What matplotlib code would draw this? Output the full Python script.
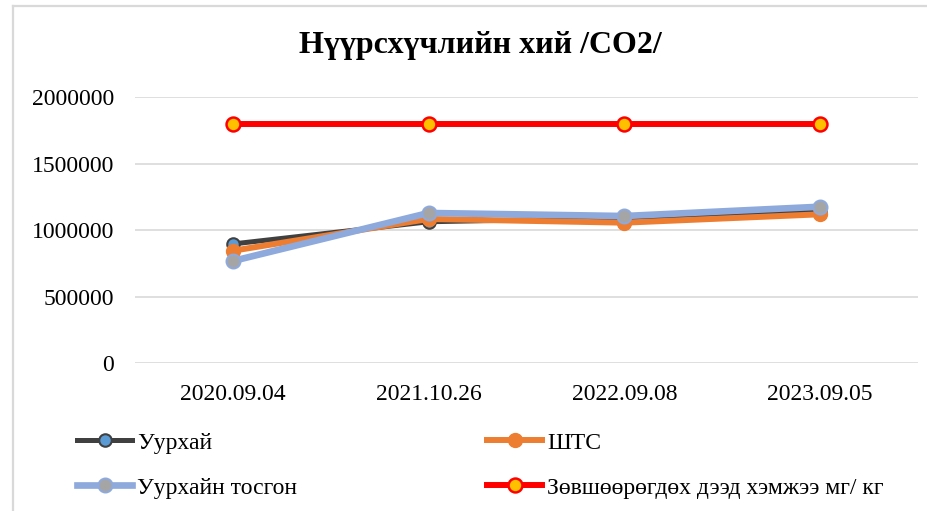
import numpy as np
import matplotlib.pyplot as plt
from matplotlib.lines import Line2D

dates = ['2020.09.04', '2021.10.26', '2022.09.08', '2023.09.05']
uurhai = [895000, 1062000, 1090000, 1135000]
shts = [844000, 1083000, 1055000, 1118000]
tosgon = [767000, 1128000, 1105000, 1175000]
limit = [1800000, 1800000, 1800000, 1800000]

plt.rcParams['font.family'] = ['Liberation Serif', 'DejaVu Serif']

W, H = 928, 511
fig = plt.figure(figsize=(W / 100, H / 100), dpi=100)
ax = fig.add_axes([135 / W, 1 - 363 / H, (918 - 135) / W, (363 - 97) / H])

x = np.arange(len(dates))
ax.plot(x, uurhai, color='#404040', lw=3.6, marker='o', ms=9,
        mfc='#5B9BD5', mec='#404040', mew=1.5, label='Уурхай', zorder=3)
ax.plot(x, shts, color='#ED7D31', lw=4.3, marker='o', ms=10,
        mfc='#ED7D31', mec='#ED7D31', label='ШТС', zorder=4)
ax.plot(x, tosgon, color='#8EA9DB', lw=4.8, marker='o', ms=10,
        mfc='#A5A5A5', mec='#8EA9DB', mew=1.5, label='Уурхайн тосгон', zorder=5)
ax.plot(x, limit, color='#FF0000', lw=4.3, marker='o', ms=10,
        mfc='#FFC000', mec='#FF0000', mew=1.8,
        label='Зөвшөөрөгдөх дээд хэмжээ мг/ кг', zorder=6)

ax.set_xlim(-0.5, len(dates) - 0.5)
ax.set_ylim(0, 2000000)
ax.set_yticks(np.arange(0, 2000001, 500000))
ax.set_yticklabels([str(v) for v in range(0, 2000001, 500000)])
ax.set_xticks(x)
ax.set_xticklabels(dates)
ax.tick_params(axis='both', length=0, labelsize=17, colors='#000000')
ax.tick_params(axis='x', pad=15)
ax.tick_params(axis='y', pad=15)
ax.grid(axis='y', color='#D9D9D9', lw=1.2)
ax.set_axisbelow(True)
for s in ax.spines.values():
    s.set_visible(False)

title = fig.text(480 / W, 1 - 45 / H, 'Нүүрсхүчлийн хий /CO2/', ha='center', va='center',
                 fontsize=23, fontweight='bold')

# chart border (cropped on right/bottom)
fig.add_artist(Line2D([13.5 / W, 13.5 / W], [0, 1 - 6 / H], transform=fig.transFigure,
                      color='#D9D9D9', lw=1.6))
fig.add_artist(Line2D([13.5 / W, 1], [1 - 6 / H, 1 - 6 / H], transform=fig.transFigure,
                      color='#D9D9D9', lw=1.6))

h, l = ax.get_legend_handles_labels()
kw = dict(frameon=False, fontsize=17, handlelength=2.35, handletextpad=0.2,
          labelspacing=1.0, borderpad=0, borderaxespad=0, loc='upper left')
leg1 = fig.legend([h[0], h[2]], [l[0], l[2]], bbox_to_anchor=(77 / W, 1 - 432 / H), **kw)
leg2 = fig.legend([h[1], h[3]], [l[1], l[3]], bbox_to_anchor=(487 / W, 1 - 432 / H), **kw)

fig.savefig('out.png', dpi=100, facecolor='white')
